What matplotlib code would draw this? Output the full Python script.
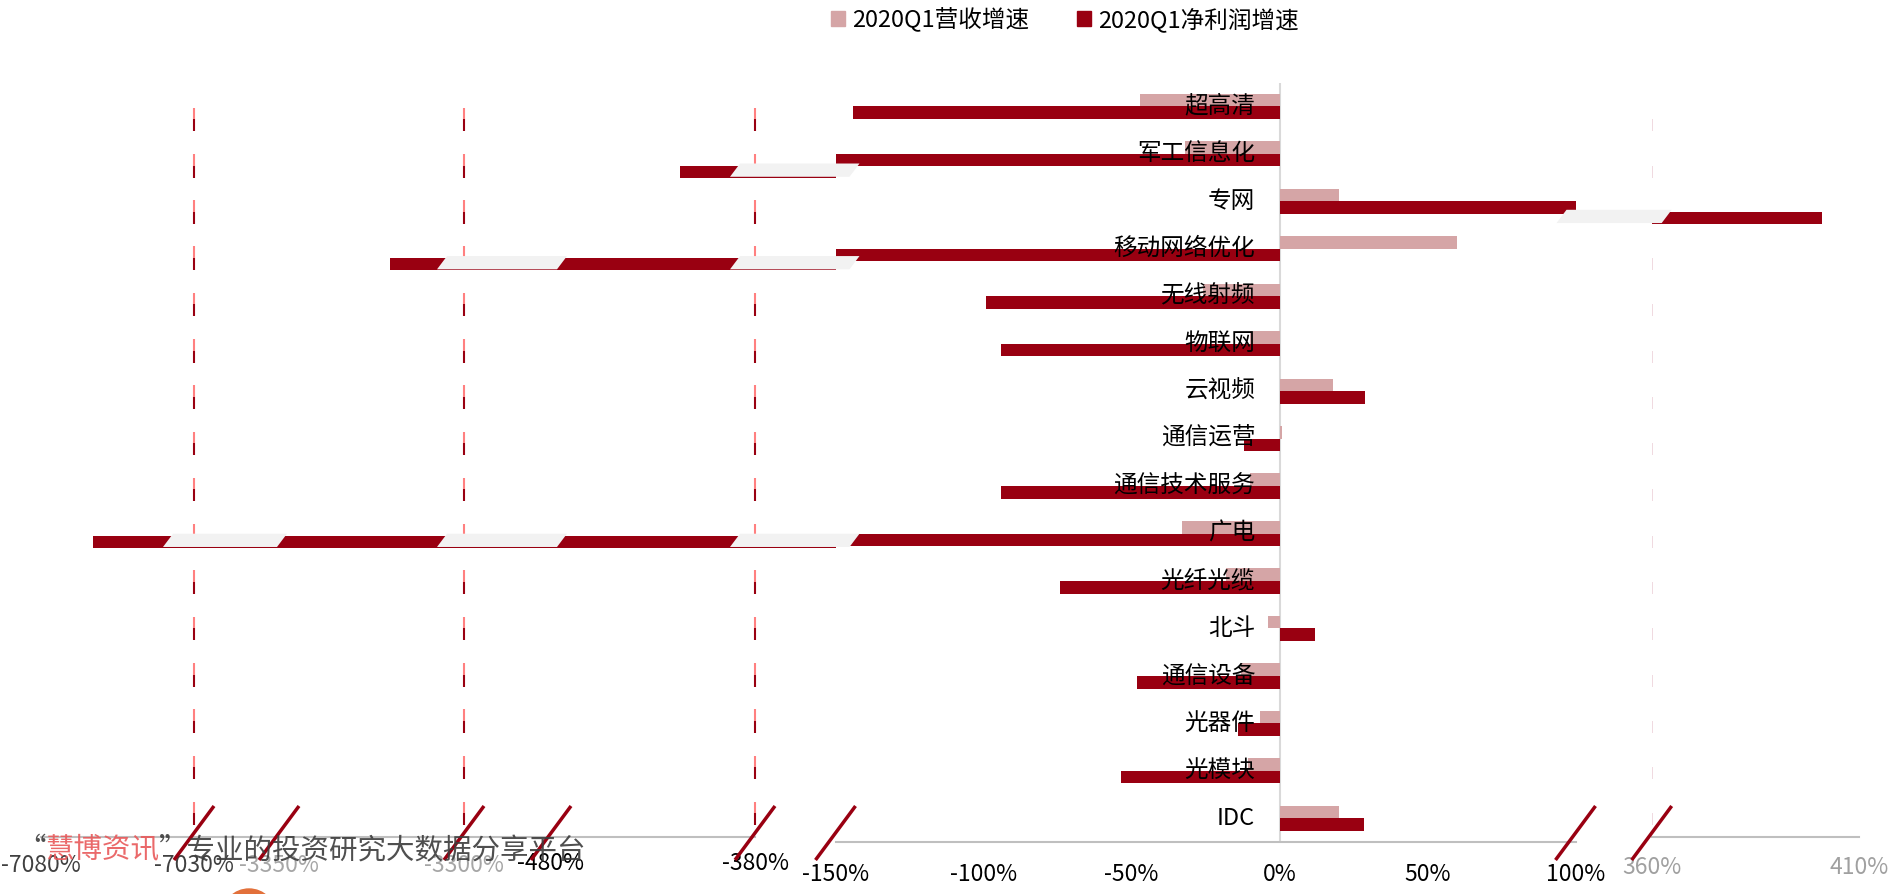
import numpy as np
import matplotlib.pyplot as plt
from matplotlib.patches import Patch, Polygon, Ellipse
from matplotlib.lines import Line2D

plt.rcParams['font.family'] = ['Noto Sans CJK SC', 'DejaVu Sans']

categories = ['超高清', '军工信息化', '专网', '移动网络优化', '无线射频', '物联网', '云视频',
              '通信运营', '通信技术服务', '广电', '光纤光缆', '北斗', '通信设备', '光器件',
              '光模块', 'IDC']
rev_growth = [-47, -32, 20, 60, -26, -10, 18, 1, -10, -33, -18, -4, -13, -6.5, -10.5, 20]
profit_growth = [-144, -417, 401, -3320, -99, -94, 29, -12, -94, -7063, -74, 12, -48, -14,
                 -53.5, 28.5]
legend_labels = ['2020Q1营收增速', '2020Q1净利润增速']

REV_C = '#D5A5A6'
NET_C = '#990011'
BREAK_C = '#F2F2F2'

W, H = 1893, 894
fig = plt.figure(figsize=(W / 100, H / 100), dpi=100)

n = len(categories)
y = np.arange(n)
h = 0.265


def make_axes(lo, hi, px_lo, px_hi, top, bottom, ext_px=None, spine_to_ext=False,
              ticks=None, tick_color='black', pad=12.5):
    scale = (hi - lo) / (px_hi - px_lo)
    ext_px = ext_px or px_hi
    xmax = hi + (ext_px - px_hi) * scale
    ax = fig.add_axes([px_lo / W, 1 - bottom / H, (ext_px - px_lo) / W, (bottom - top) / H])
    ax.set_xlim(lo, xmax)
    ax.set_ylim(n - 0.5, -0.5)
    ax.patch.set_alpha(0)
    for s in ['top', 'left', 'right']:
        ax.spines[s].set_visible(False)
    ax.spines['bottom'].set_color('#BFBFBF')
    ax.spines['bottom'].set_linewidth(1.5)
    ax.spines['bottom'].set_bounds(lo, xmax if spine_to_ext else hi)
    ax.set_yticks([])
    ticks = ticks if ticks is not None else [lo, hi]
    ax.set_xticks(ticks)
    ax.set_xticklabels([f'{t}%' for t in ticks])
    ax.tick_params(axis='x', length=0, pad=pad, labelsize=16.5, labelcolor=tick_color)
    return ax


# broken scale: three far-left pieces, the main piece and one on the right
SEG_TOP, SEG_BOT = 96.1, 836.5
ax1 = make_axes(-7080, -7030, 41, 194, SEG_TOP, SEG_BOT, ext_px=279, spine_to_ext=True,
                tick_color='#404040')
ax2 = make_axes(-3350, -3300, 279, 464, SEG_TOP, SEG_BOT, ext_px=551, spine_to_ext=True,
                tick_color='#A6A6A6')
ax3 = make_axes(-480, -380, 551, 755, SEG_TOP, SEG_BOT, ext_px=835.5, pad=11)
axm = make_axes(-150, 100, 835.5, 1575.5, 82.5, 842.1, ticks=list(range(-150, 101, 50)),
                pad=15)
axr = make_axes(360, 410, 1651.7, 1859, SEG_TOP, SEG_BOT, tick_color='#A0A0A0', pad=14)

for ax in [ax1, ax2, ax3, axr]:
    ax.barh(y + h / 2, profit_growth, height=h, color=NET_C, zorder=2)
for ax, edge in [(ax1, -7030), (ax2, -3300), (ax3, -380)]:
    xs = np.full(n, edge)
    ax.vlines(xs, y - 0.25, y, color='#FF8080', lw=1.5, zorder=3)
    ax.vlines(xs, y, y + 0.26, color=NET_C, lw=1.5, zorder=3)
axr.vlines(np.full(n, 360), y, y + 0.26, color='#EDD3DA', lw=1.2, zorder=1)

axm.axvline(0, color='#D9D9D9', lw=1.5, zorder=1)
axm.barh(y - h / 2, rev_growth, height=h, color=REV_C, zorder=2)
axm.barh(y + h / 2, profit_growth, height=h, color=NET_C, zorder=2)
for i, name in enumerate(categories):
    axm.annotate(name, xy=(0, i), xytext=(-17.6, 0), textcoords='offset points',
                 ha='right', va='center', fontsize=17, color='black', zorder=4)

# overlay in figure fraction for break marks and watermark
ov = fig.add_axes([0, 0, 1, 1], zorder=10)
ov.set_axis_off()
ov.set_xlim(0, 1)
ov.set_ylim(0, 1)
to_fig = fig.transFigure.inverted()


def disp(ax, xv, yv):
    return ax.transData.transform((xv, yv))


# (left axes, its last value, right axes, its first value, px before, px after)
breaks = [(ax1, -7030, ax2, -3350, 31, 8), (ax2, -3300, ax3, -480, 27, 16),
          (ax3, -380, axm, -150, 25, 24), (axm, 100, axr, 360, 19, 20)]
for axl, xl_val, axr_, xr_val, before, after in breaks:
    xl = disp(axl, xl_val, 0)[0] - before
    xr = disp(axr_, xr_val, 0)[0] + after
    for i, v in enumerate(profit_growth):
        if xl_val < 0 and v < xl_val:
            ref = axl
        elif xl_val > 0 and v > xr_val:
            ref = axr_
        else:
            continue
        top = disp(ref, 0, i)[1] + 2
        bot = disp(ref, 0, i + h)[1] + 1
        sl = 10
        verts = to_fig.transform([(xl, bot), (xr - sl, bot), (xr, top), (xl + sl, top)])
        ov.add_patch(Polygon(verts, closed=True, facecolor=BREAK_C, edgecolor='none',
                             zorder=5))

yc = H - 833
for ax, xv in [(ax1, -7030), (ax2, -3350), (ax2, -3300), (ax3, -480), (ax3, -380),
               (axm, -150), (axm, 100), (axr, 360)]:
    xd = disp(ax, xv, 0)[0]
    pts = to_fig.transform([(xd - 20, yc - 27), (xd + 20, yc + 27)])
    ov.add_line(Line2D(pts[:, 0], pts[:, 1], color=NET_C, lw=2.5,
                       solid_capstyle='butt', zorder=6))

# watermark
parts = [('“', '#3C3C3C'), ('慧博资讯', '#E8595A'), ('”专业的投资研究大数据分享平台', '#3C3C3C')]
prev = ov.text(17 / W, 1 - 850 / H, parts[0][0], color=parts[0][1], fontsize=20.5,
               va='center', ha='left', alpha=0.9, zorder=7)
for s, c in parts[1:]:
    prev = ov.annotate(s, xy=(1, 0.5), xycoords=prev, va='center', ha='left',
                       fontsize=20.5, color=c, alpha=0.9, zorder=7)
ov.add_patch(Ellipse((249 / W, 1 - 916 / H), 54 / W, 54 / H, color='#E2703A', zorder=7))

fig.legend(handles=[Patch(color=REV_C, label=legend_labels[0]),
                    Patch(color=NET_C, label=legend_labels[1])],
           ncol=2, loc='center', bbox_to_anchor=(1065 / W, 1 - 19.6 / H), frameon=False,
           handlelength=0.6, handleheight=0.6, handletextpad=0.3, columnspacing=2.0,
           fontsize=17)

fig.savefig('out.png', dpi=100)
